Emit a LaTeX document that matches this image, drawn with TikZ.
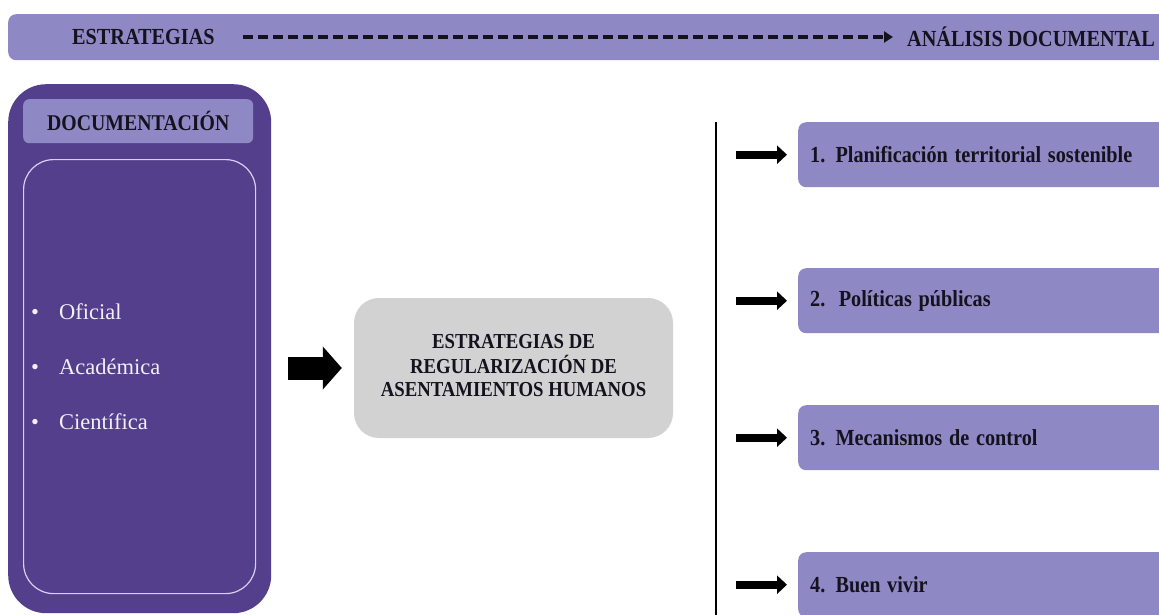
\documentclass[tikz,border=0pt]{standalone}
\usepackage{fontspec}
\usepackage{graphicx}
\setmainfont{Liberation Serif}
\usetikzlibrary{arrows.meta}
\definecolor{lav}{HTML}{8E89C4}
\definecolor{dpur}{HTML}{533F8B}
\definecolor{gbox}{HTML}{D3D2D2}
\definecolor{inline}{HTML}{D8D0F2}
\definecolor{ink}{HTML}{15121F}
\definecolor{paletxt}{HTML}{F2EEFA}
\newcommand{\cnd}[1]{\scalebox{0.88}[1]{#1}}
\begin{document}
\begin{tikzpicture}[x=1pt,y=-1pt,
  boldtxt/.style={font=\bfseries\fontsize{23}{27}\selectfont, text=ink, inner sep=0pt},
  barbox/.style={fill=lav, rounded corners=8pt, inner sep=0pt, minimum width=1175pt, minimum height=46pt},
  docbox/.style={fill=dpur, rounded corners=38pt, inner sep=0pt, minimum width=263pt, minimum height=529pt},
  hdrbox/.style={fill=lav, rounded corners=6pt, inner sep=0pt, minimum width=230pt, minimum height=44pt,
    font=\bfseries\fontsize{22.5}{26}\selectfont, text=ink},
  innerbox/.style={draw=inline, line width=1.2pt, rounded corners=30pt, inner sep=0pt, minimum width=232pt, minimum height=434pt},
  bulletitem/.style={inner sep=0pt, text=paletxt, font=\fontsize{22.5}{27}\selectfont},
  graybox/.style={fill=gbox, rounded corners=25pt, inner sep=0pt, minimum width=319pt, minimum height=140pt,
    text=ink, font=\bfseries\fontsize{21.3}{22.5}\selectfont},
  rbox/.style={fill=lav, rounded corners=8pt, inner xsep=12pt, inner ysep=0pt, text width=366pt, align=left,
    minimum height=65pt, text=ink, font=\bfseries\fontsize{23}{27}\selectfont},
  dasharrow/.style={line width=3.5pt, ink, dash pattern=on 10pt off 5pt, -{Triangle[length=9pt,width=11pt]}},
  bigarrow/.style={line width=23pt, black, -{Triangle[length=19pt,width=42pt]}},
  smallarrow/.style={line width=8pt, black, -{Triangle[length=10pt,width=18pt]}},
  vline/.style={line width=2pt, black}
]
\useasboundingbox (0,0) rectangle (1159,614);
\fill[white] (0,0) rectangle (1159,614);
\clip (0,0) rectangle (1159,614);

% top bar
\node[barbox, anchor=north west] (bar) at (8,14) {};
\node[boldtxt, anchor=west] (estr) at (72,37) {\cnd{ESTRATEGIAS}};
\node[boldtxt, anchor=east] (anal) at (1155,37) {\cnd{ANÁLISIS DOCUMENTAL}};
\draw[dasharrow, shorten <=28pt, shorten >=14pt] (estr.east) -- (anal.west);

% left documentation box
\node[docbox, anchor=north west] (doc) at (8,84) {};
\node[hdrbox, anchor=north west] (hdr) at (23,99) {\cnd{DOCUMENTACIÓN}};
\node[innerbox, anchor=north west] (inner) at (23,159) {};
\node[bulletitem, anchor=west] (oficial) at (31,312) {\makebox[28pt][l]{\textbullet}Oficial};
\node[bulletitem, anchor=west] (academica) at (31,367) {\makebox[28pt][l]{\textbullet}Académica};
\node[bulletitem, anchor=west] (cientifica) at (31,422) {\makebox[28pt][l]{\textbullet}Científica};

% central gray box
\node[graybox] (gray) at (513.5,368) {\raisebox{-3pt}{\cnd{\begin{tabular}{@{}c@{}}ESTRATEGIAS DE\\REGULARIZACIÓN DE\\ASENTAMIENTOS HUMANOS\end{tabular}}}};
\draw[bigarrow, shorten <=17pt, shorten >=12pt] (doc.east |- gray.west) -- (gray.west);

% vertical line
\coordinate (vtop) at (716,122);
\coordinate (vbot) at (716,620);
\draw[vline] (vtop) -- (vbot);

% right boxes
\node[rbox, anchor=north west] (r1) at (798,122) {\cnd{1. Planificación territorial sostenible}};
\node[rbox, anchor=north west] (r2) at (798,268) {\cnd{2.\ \ Políticas públicas}};
\node[rbox, anchor=north west] (r3) at (798,405) {\cnd{3. Mecanismos de control}};
\node[rbox, anchor=north west] (r4) at (798,552) {\cnd{4. Buen vivir}};

\foreach \r in {r1,r2,r3,r4}{
  \draw[smallarrow, shorten <=20pt, shorten >=11pt] (vtop |- \r.west) -- (\r.west);
}
\end{tikzpicture}
\end{document}
